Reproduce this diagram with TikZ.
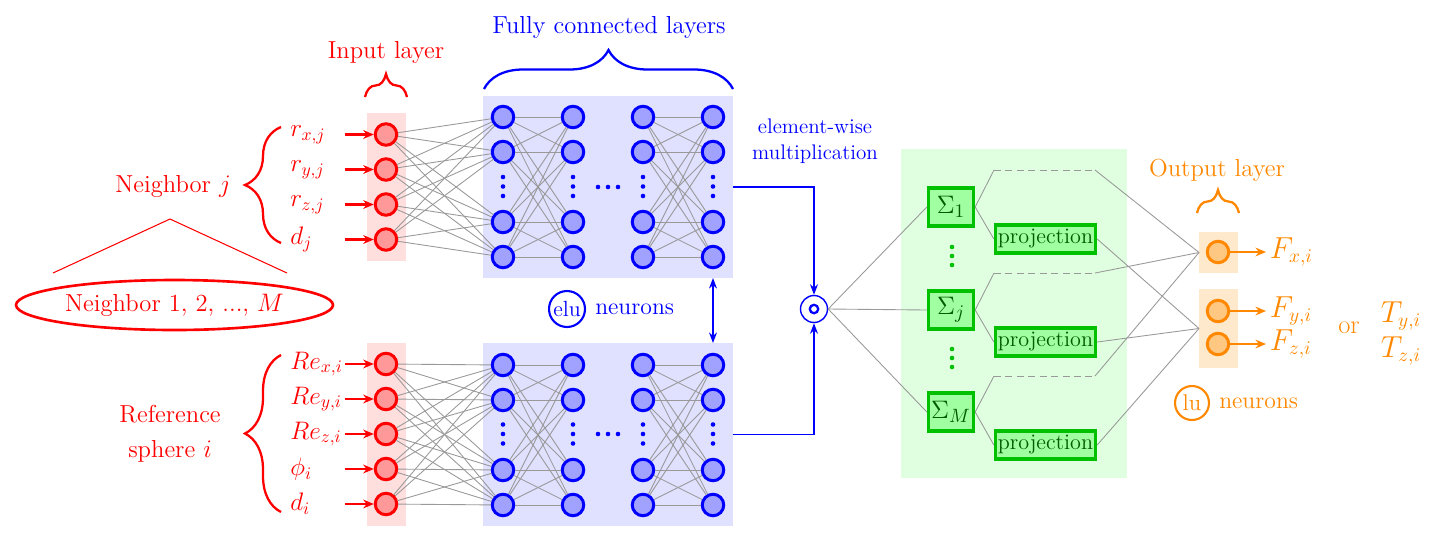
\documentclass[tikz,border=0pt]{standalone}
\usepackage{fontspec}
\usetikzlibrary{
    decorations.pathreplacing,
    arrows.meta,
    shapes.geometric,
    calc,
    positioning
}
\definecolor{inred}{RGB}{255,0,0}
\definecolor{fcblue}{RGB}{0,0,255}
\definecolor{sumgreen}{RGB}{0,192,0}
\definecolor{sumfill}{RGB}{160,255,160}
\definecolor{sumbg}{RGB}{224,255,224}
\definecolor{sumtext}{RGB}{0,90,0}
\definecolor{outorange}{RGB}{255,136,0}
\definecolor{outfill}{RGB}{255,200,130}
\definecolor{outbg}{RGB}{255,233,204}

\begin{document}
\begin{tikzpicture}[x=0.02cm, y=-0.02cm, font=\fontsize{14}{17}\selectfont,
    neuron/.style={circle, line width=1.7pt, minimum size=0.43cm, inner sep=0pt},
    inneuron/.style={neuron, draw=inred, fill=inred!40},
    fcneuron/.style={neuron, draw=fcblue, fill=fcblue!37},
    outneuron/.style={neuron, draw=outorange, fill=outfill},
    bgbox/.style={rectangle, inner sep=0pt, outer sep=0pt},
    link/.style={draw=gray!80, line width=0.5pt},
    feed/.style={-{Stealth[length=6pt, width=5pt]}, line width=1.2pt},
    layerbrace/.style={decorate, decoration={brace, amplitude=#1}, line width=1.3pt},
    sumbox/.style={rectangle, draw=sumgreen, fill=sumfill, line width=1.9pt, text=sumtext,
        minimum width=0.9cm, minimum height=0.76cm, inner sep=0pt, font=\fontsize{15.5}{18}\selectfont},
    projbox/.style={rectangle, draw=sumgreen, fill=sumfill, line width=1.9pt, text=sumtext,
        minimum width=2cm, minimum height=0.56cm, inner sep=0pt, font=\fontsize{12.6}{15}\selectfont},
    inlabel/.style={anchor=west, text width=1.08cm, inner sep=0pt, text=inred, font=\fontsize{14.5}{16}\selectfont},
    outlabel/.style={anchor=west, text=outorange, inner sep=2pt, font=\fontsize{16}{18}\selectfont},
    smalltext/.style={font=\fontsize{12}{15}\selectfont},
    unittext/.style={font=\fontsize{13.5}{15}\selectfont}
]
\useasboundingbox (0,0) rectangle (1440,542);

\node[bgbox, fill=inred!13, minimum width=0.78cm, minimum height=2.96cm] (intop) at (386.5,187) {};
\node[bgbox, fill=inred!13, minimum width=0.78cm, minimum height=3.66cm] (inbot) at (386.5,434.5) {};
\node[bgbox, fill=fcblue!12, minimum width=5cm, minimum height=3.64cm] (fctop) at (608,187) {};
\node[bgbox, fill=fcblue!12, minimum width=5cm, minimum height=3.66cm] (fcbot) at (608,434.5) {};
\node[bgbox, fill=sumbg, minimum width=4.52cm, minimum height=6.58cm] (sumarea) at (1014,313.5) {};
\node[bgbox, fill=outbg, minimum width=0.78cm, minimum height=0.82cm] (og1) at (1218.5,252.5) {};
\node[bgbox, fill=outbg, minimum width=0.78cm, minimum height=1.58cm] (og2) at (1218.5,328.5) {};

\foreach \k/\lbl in {1/{r_{x,j}},2/{r_{y,j}},3/{r_{z,j}},4/{d_j}} {
    \node[inneuron] (in\k) at (386,{134.5+35*(\k-1)}) {};
    \node[inlabel] (lin\k) at (290,{134.5+35*(\k-1)}) {$\lbl$};
    \draw[feed, inred] (lin\k.east) -- (in\k);
}
\foreach \k/\lbl in {1/{Re_{x,i}},2/{Re_{y,i}},3/{Re_{z,i}},4/{\phi_i},5/{d_i}} {
    \node[inneuron] (rin\k) at (386,{364+35*(\k-1)}) {};
    \node[inlabel] (lrin\k) at (290,{364+35*(\k-1)}) {$\lbl$};
    \draw[feed, inred] (lrin\k.east) -- (rin\k);
}

\node[text=inred] (nbr) at (173,186) {Neighbor $j$};
\draw[layerbrace=0.72cm, inred] (281,243) -- (281,127);
\coordinate (apex) at (170,219);
\coordinate (tl) at (53,273);
\coordinate (tr) at (287,273);
\draw[inred, line width=0.6pt] (tl) -- (apex) -- (tr);
\node[ellipse, draw=inred, text=inred, line width=1.5pt, minimum width=6.34cm, minimum height=1cm, inner sep=0pt] (allnbr) at (174.5,305) {Neighbor 1, 2, ..., $M$};
\node[text=inred, align=center, font=\fontsize{14}{20}\selectfont] (refsph) at (170,434) {Reference\\sphere $i$};
\draw[layerbrace=0.72cm, inred] (281,512) -- (281,355);

\node[text=inred] (inlbl) at (386,52) {Input layer};
\draw[layerbrace=0.46cm, inred] (365,97) -- (407,97);
\node[text=fcblue] (fclbl) at (609,27) {Fully connected layers};
\draw[layerbrace=0.78cm, fcblue] (484,89) -- (733,89);

\foreach \c/\x in {1/503,2/573,3/643,4/713} {
    \foreach \r in {1,2,4,5} {
        \node[fcneuron] (t\c-\r) at (\x,{117+35*(\r-1)}) {};
        \node[fcneuron] (b\c-\r) at (\x,{365+35*(\r-1)}) {};
    }
    \foreach \d in {-9.5,0,9.5} {
        \fill[fcblue] (\x,{186.5+\d}) circle (1.3pt);
        \fill[fcblue] (\x,{434+\d}) circle (1.3pt);
    }
}
\foreach \x in {598,608,618} {
    \fill[fcblue] (\x,187) circle (1.3pt);
    \fill[fcblue] (\x,434) circle (1.3pt);
}

\foreach \r in {1,2,4,5} {
    \foreach \k in {1,...,4} {
        \draw[link] (in\k) -- (t1-\r);
    }
    \foreach \k in {1,...,5} {
        \draw[link] (rin\k) -- (b1-\r);
    }
    \foreach \s in {1,2,4,5} {
        \draw[link] (t1-\r) -- (t2-\s);
        \draw[link] (t3-\r) -- (t4-\s);
        \draw[link] (b1-\r) -- (b2-\s);
        \draw[link] (b3-\r) -- (b4-\s);
    }
}

\node[circle, draw=fcblue, line width=0.8pt, minimum size=0.54cm, inner sep=0pt] (mul) at (814,309) {};
\draw[fcblue, line width=1.3pt] (mul.center) circle (2.4pt);
\draw[fcblue, line width=0.9pt, -{Stealth[length=6pt, width=4.5pt]}] (fctop.east) -| (mul.north);
\draw[fcblue, line width=0.9pt, -{Stealth[length=6pt, width=4.5pt]}] (fcbot.east) -| (mul.south);
\draw[fcblue, line width=0.9pt, {Stealth[length=6pt, width=4.5pt]}-{Stealth[length=6pt, width=4.5pt]}] (fctop.south -| t4-5) -- (fcbot.north -| b4-1);
\node[text=fcblue, align=center, smalltext] (ewlbl) at (815,141) {element-wise\\multiplication};
\node[circle, draw=fcblue, line width=1.2pt, minimum size=0.72cm, inner sep=0pt, text=fcblue, font=\fontsize{12.5}{13}\selectfont] (elu) at (567,309) {elu};
\node[text=fcblue, unittext, right=0.06cm of elu] (elulbl) {neurons};

\node[sumbox] (s1) at (951,207) {$\Sigma_1$};
\node[sumbox] (sj) at (951,310) {$\Sigma_j$};
\node[sumbox] (sM) at (951,412) {$\Sigma_M$};
\foreach \y in {247,256,265,349,358,367} {
    \fill[sumgreen] (952,\y) circle (1.3pt);
}
\node[projbox] (p1) at (1045.5,239) {projection};
\node[projbox] (pj) at (1045.5,342) {projection};
\node[projbox] (pM) at (1045.5,445) {projection};

\coordinate (d1a) at (994,170);
\coordinate (d1b) at (1095,170);
\coordinate (dja) at (994,273);
\coordinate (djb) at (1095,273);
\coordinate (dMa) at (994,376);
\coordinate (dMb) at (1095,376);
\foreach \n in {1,j,M} {
    \draw[link] (mul.east) -- (s\n.west);
    \draw[link] (s\n.east) -- (d\n a);
    \draw[link, dash pattern=on 4pt off 2.5pt] (d\n a) -- (d\n b);
    \draw[link] (d\n b) -- (og1.west);
    \draw[link] (s\n.east) -- (p\n.west);
    \draw[link] (p\n.east) -- (og2.west);
}

\node[outneuron] (o1) at (1218,252) {};
\node[outneuron] (o2) at (1218,311) {};
\node[outneuron] (o3) at (1218,344) {};
\node[outlabel] (fx) at (1266,252) {$F_{x,i}$};
\node[outlabel] (fy) at (1266,311) {$F_{y,i}$};
\node[outlabel] (fz) at (1266,344) {$F_{z,i}$};
\draw[feed, outorange] (o1) -- (fx.west);
\draw[feed, outorange] (o2) -- (fy.west);
\draw[feed, outorange] (o3) -- (fz.west);
\node[text=outorange, font=\fontsize{15}{17}\selectfont] (orlbl) at (1349,328) {or};
\node[text=outorange, font=\fontsize{16}{18}\selectfont] (ty) at (1401,316) {$T_{y,i}$};
\node[text=outorange, font=\fontsize{16}{18}\selectfont] (tz) at (1401,351) {$T_{z,i}$};
\node[text=outorange] (outlbl) at (1217,170) {Output layer};
\draw[layerbrace=0.46cm, outorange] (1197,213) -- (1239,213);
\node[circle, draw=outorange, line width=1.2pt, minimum size=0.68cm, inner sep=0pt, text=outorange, font=\fontsize{13}{13}\selectfont] (lu) at (1192,403) {lu};
\node[text=outorange, unittext, right=0.06cm of lu] (lulbl) {neurons};
\end{tikzpicture}
\end{document}
